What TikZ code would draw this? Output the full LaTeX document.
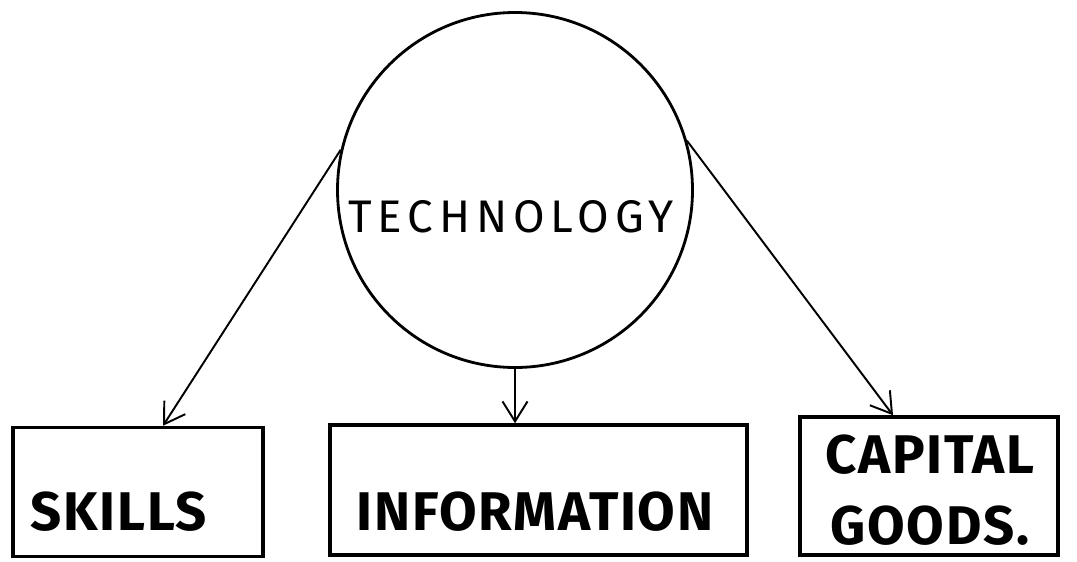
\documentclass[tikz,border=0pt]{standalone}
\usepackage{fontspec}
\setmainfont{Fira Sans}
\newfontfamily\techfont[LetterSpace=13]{Fira Sans}
\newfontfamily\handfont[LetterSpace=3]{Fira Sans}
\usetikzlibrary{arrows.meta}

\begin{document}
\begin{tikzpicture}[
      techcircle/.style={circle, draw, line width=1.6pt, minimum size=7.1cm, inner sep=0pt},
      itembox/.style={draw, line width=2pt, inner sep=0pt},
      hand/.style={font=\handfont\bfseries\fontsize{31}{40}\selectfont, inner sep=0pt},
      arrow/.style={-{Straight Barb[length=4mm, width=5mm]}, line width=1.1pt}
    ]
      \useasboundingbox (0,0) rectangle (21.54,11.22);

      % technology in the middle
      \node[techcircle] (tech) at (10.30,7.42) {};
      \node[font=\techfont\fontsize{26}{30}\selectfont, inner sep=0pt] (techlabel) at (10.22,6.88) {TECHNOLOGY};

      % the three boxes
      \node[itembox, minimum width=5.0cm, minimum height=2.58cm] (skills) at (2.76,1.38) {};
      \node[itembox, minimum width=8.34cm, minimum height=2.6cm] (info) at (10.77,1.42) {};
      \node[itembox, minimum width=5.16cm, minimum height=2.76cm] (capital) at (18.58,1.50) {};

      \node[hand] (skillslabel) at (2.38,0.98) {SKILLS};
      \node[hand] (infolabel) at (10.70,0.98) {INFORMATION};
      \node[hand, align=center] (capitallabel) at (18.60,1.42) {CAPITAL\\[0pt]GOODS.};

      \draw[arrow] (tech.167) -- ([xshift=0.5cm]skills.north);
      \draw[arrow] (tech.south) -- (tech.south |- info.north);
      \draw[arrow] (tech.16) -- ([xshift=-0.72cm]capital.north);
    \end{tikzpicture}
\end{document}
